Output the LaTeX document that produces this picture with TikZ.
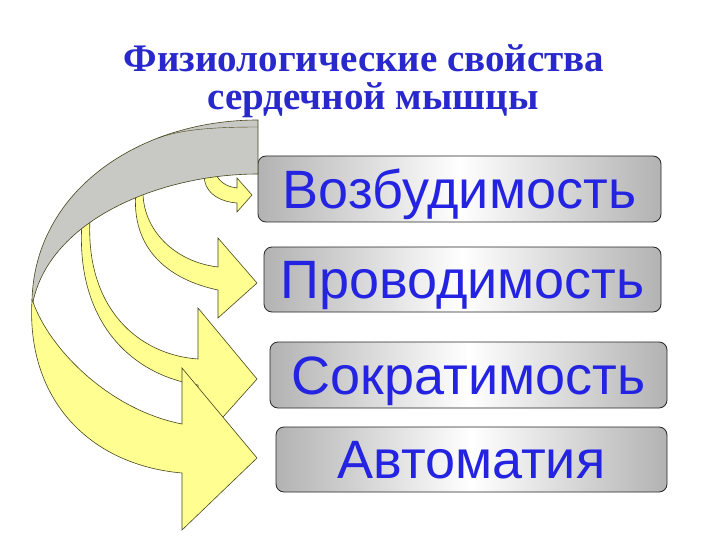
\documentclass[tikz,border=0pt]{standalone}
\usepackage{fontspec}
\setmainfont{Liberation Serif}
\newfontfamily\arialf{Liberation Sans}
\definecolor{titleblue}{RGB}{40,40,205}
\definecolor{labelblue}{RGB}{35,35,225}
\definecolor{arrowyellow}{RGB}{255,255,145}
\definecolor{ribbongray}{RGB}{200,200,196}
\definecolor{edgeolive}{RGB}{70,70,30}
\tikzset{
  boxnode/.style={draw=black!85, line width=0.8pt, rounded corners=8pt,
    left color=black!30, right color=black!30, middle color=white,
    inner sep=0pt, text=labelblue, text height=38pt, text depth=0pt,
    font=\arialf\fontsize{54}{56}\selectfont},
  yarrow/.style={fill=arrowyellow, draw=edgeolive, line width=0.6pt, line join=miter},
  grayribbon/.style={fill=ribbongray, draw=edgeolive, line width=0.6pt},
  titlestyle/.style={text=titleblue, font=\bfseries\fontsize{39}{38}\selectfont, inner sep=0pt, align=center}
}
\begin{document}
\begin{tikzpicture}[x=1pt,y=-1pt]
\useasboundingbox[fill=white] (0,0) rectangle (720,540);

% title
\node[titlestyle] (title) at (364,81) {Физиологические свойства\\\hspace*{18pt}сердечной мышцы};

% boxes
\node[boxnode, minimum width=403pt, minimum height=66pt] (b1) at (459.5,189) {Возбудимость};
\node[boxnode, minimum width=397pt, minimum height=65pt] (b2) at (462.5,279.5) {Проводимость};
\node[boxnode, minimum width=397pt, minimum height=66pt] (b3) at (468.5,375) {Сократимость};
\node[boxnode, minimum width=391pt, minimum height=65pt] (b4) at (471.5,459.5) {Автоматия};

% arrow 1 (small)
\draw[yarrow] (204,176) .. controls (205,195) and (222,202) .. (237,203)
  -- (237,212) -- (252,195) -- (237,178) -- (237,188)
  .. controls (230,187) and (222,185) .. (216,175) -- cycle;

% arrow 2
\draw[yarrow] (136,190) .. controls (130,250) and (170,280) .. (218,290)
  -- (218,318) -- (257,283) -- (218,238) -- (218,267)
  .. controls (175,262) and (142,230) .. (143,190) -- cycle;

% arrow 3
\draw[yarrow] (82,222) .. controls (75,320) and (130,375) .. (198,385)
  -- (198,445) -- (257,379) -- (198,308) -- (198,359)
  .. controls (140,355) and (85,310) .. (90,218) -- cycle;

% arrow 4 (yellow part)
\draw[yarrow] (32,300) .. controls (26,400) and (90,465) .. (182,473)
  -- (182,530) -- (257,458) -- (182,368) -- (182,424)
  .. controls (110,410) and (50,350) .. (33,302) -- cycle;

% gray ribbon (back of arrow 4)
\draw[grayribbon] (258,120) .. controls (140,120) and (35,190) .. (32,300)
  -- (33,302) .. controls (50,220) and (160,174) .. (258,174) -- cycle;
\draw[edgeolive, line width=0.4pt] (258,127) .. controls (210,127) and (180,130) .. (158,138);

\end{tikzpicture}
\end{document}
